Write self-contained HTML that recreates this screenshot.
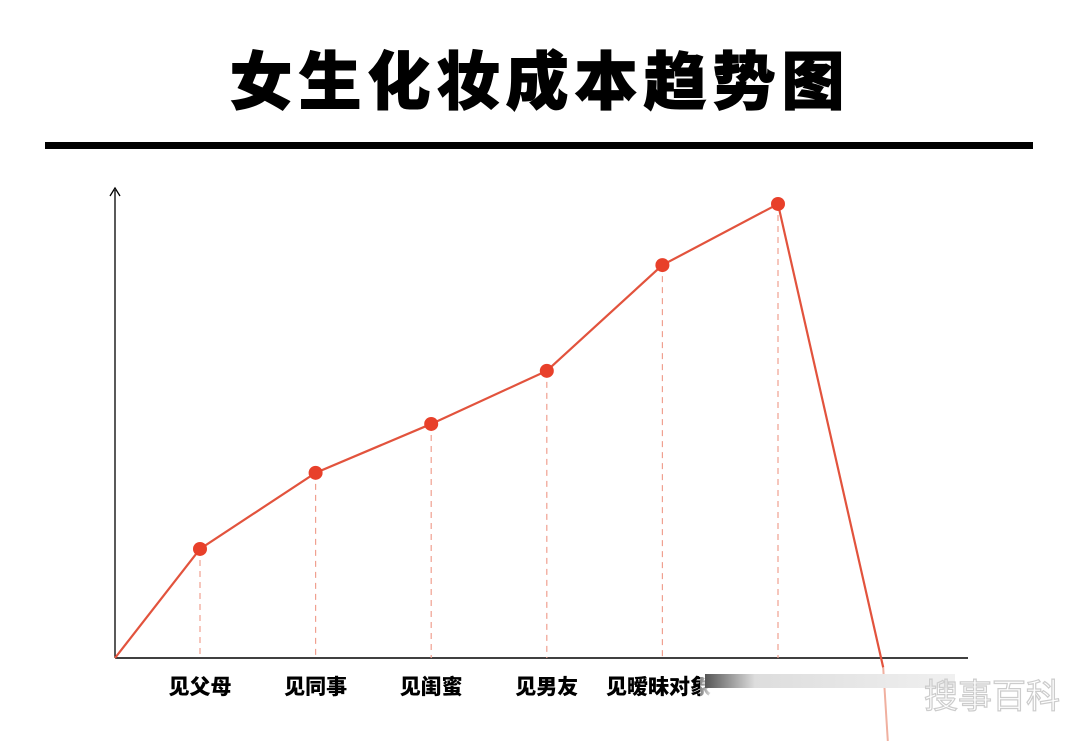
<!DOCTYPE html>
<html><head><meta charset="utf-8"><style>
body{margin:0;width:1080px;height:741px;background:#fff;overflow:hidden;position:relative;font-family:"Liberation Sans","Noto Sans CJK SC",sans-serif}
#title{position:absolute;left:0;top:32px;width:1080px;text-align:center;font-size:63px;font-weight:900;letter-spacing:6px;color:#000;font-family:"Noto Sans CJK SC","WenQuanYi Zen Hei",sans-serif;-webkit-text-stroke:1px #000}
#rule{position:absolute;left:45px;top:142px;width:988px;height:7px;background:#000}
</style></head><body>
<div id="title">女生化妆成本趋势图</div>
<div id="rule"></div>
<svg id="chart" width="1080" height="741" style="position:absolute;left:0;top:0"></svg>
<script>
const categories=["见父母","见同事","见闺蜜","见男友","见暧昧对象"];
const values=[23.2,39.4,49.8,61.1,83.6,96.6];
const startValue=0;
const endValue=-2;
const NS="http://www.w3.org/2000/svg";
const svg=document.getElementById('chart');
const x0=200,step=115.6,yBase=658,yTop=188;
function xPos(i){return x0+i*step;}
function yPos(v){return yBase-(v/100)*(yBase-yTop);}
function mk(t,a){const e=document.createElementNS(NS,t);for(const k in a)e.setAttribute(k,a[k]);svg.appendChild(e);return e;}
let ya=mk('line',{x1:115,y1:yBase,x2:115,y2:190,stroke:'#000','stroke-width':1.3});


let ar=mk('path',{d:'M110,196 L115,188 L120,196',fill:'none',stroke:'#000','stroke-width':1.3});


let xa=mk('line',{x1:115,y1:yBase,x2:968,y2:yBase,stroke:'#000','stroke-width':1.5});


values.forEach((v,i)=>{
 const d=mk('line',{x1:xPos(i),y1:yPos(v),x2:xPos(i),y2:yBase,stroke:'#f0a090','stroke-width':1.2,'stroke-dasharray':'6,5'});
 
 
});
const pts=[[115,yPos(startValue)]].concat(values.map((v,i)=>[xPos(i),yPos(v)])).concat([[xPos(5.91),yPos(endValue)]]);
let pl=mk('polyline',{points:pts.map(p=>p.join(',')).join(' '),fill:'none',stroke:'#e2533d','stroke-width':2.2});


let tail=mk('line',{x1:xPos(5.91),y1:yPos(endValue),x2:xPos(5.95),y2:741,stroke:'#f0b0a0','stroke-width':2});


values.forEach((v,i)=>{
 const c=mk('circle',{cx:xPos(i),cy:yPos(v),r:7,fill:'#e8402a'});
 
 
});
categories.forEach((c,i)=>{
 const last=i==categories.length-1;
 const t=mk('text',{x:last?606:xPos(i),y:694,'text-anchor':last?'start':'middle','font-size':21,'font-weight':'900',fill:'#000','font-family':'"Noto Sans CJK SC",sans-serif'});
 t.textContent=c;
 
 
});
const g=mk('defs',{});
g.innerHTML='<linearGradient id="fade" x1="0" x2="1"><stop offset="0" stop-color="#fff" stop-opacity="0.5"/><stop offset="0.08" stop-color="#fff" stop-opacity="1"/><stop offset="1" stop-color="#fff" stop-opacity="1"/></linearGradient><linearGradient id="streak" x1="0" x2="1"><stop offset="0" stop-color="#555"/><stop offset="0.2" stop-color="#ddd"/><stop offset="1" stop-color="#f0f0f0"/></linearGradient>';
let sm=mk('rect',{x:700,y:670,width:180,height:32,fill:'url(#fade)'});


let sl=mk('rect',{x:705,y:674,width:250,height:14,fill:'url(#streak)'});


let wm=mk('text',{x:992,y:708,'text-anchor':'middle','font-size':34,fill:'none',stroke:'#ccc','stroke-width':1.2,'font-family':'"Noto Sans CJK SC",sans-serif'});
wm.textContent='搜事百科';


</script>
</body></html>
